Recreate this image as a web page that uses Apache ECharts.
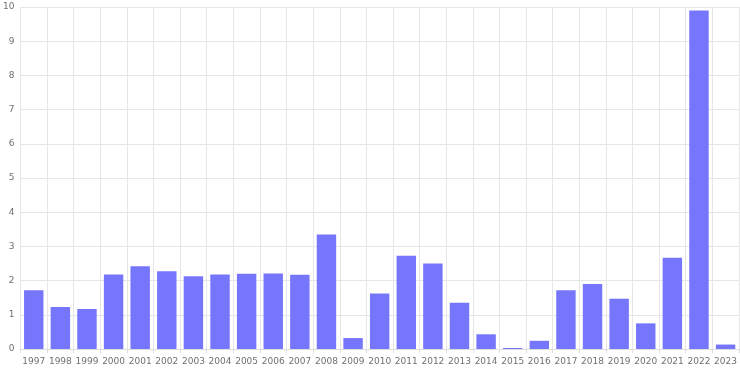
<!DOCTYPE html>
<html>
<head>
<meta charset="utf-8">
<script src="https://cdn.jsdelivr.net/npm/echarts@6/dist/echarts.min.js"></script>
<style>html,body{margin:0;padding:0;background:#fff}#c{width:740px;height:370px}</style>
</head>
<body>
<div id="c"></div>
<script>
var years = ['1997','1998','1999','2000','2001','2002','2003','2004','2005','2006','2007','2008','2009','2010','2011','2012','2013','2014','2015','2016','2017','2018','2019','2020','2021','2022','2023'];
var values = [1.72,1.23,1.17,2.18,2.42,2.27,2.13,2.18,2.2,2.21,2.17,3.35,0.32,1.62,2.73,2.5,1.35,0.43,0.03,0.24,1.72,1.9,1.47,0.75,2.67,9.9,0.13];
var yTicks = [0,1,2,3,4,5,6,7,8,9,10];

var chart = echarts.init(document.getElementById('c'), null, {renderer:'canvas'});
chart.setOption({
  animation:false,
  grid:{left:20,right:0,top:7,bottom:21,containLabel:false},
  xAxis:{
    type:'category', data:years,
    axisLine:{show:true,lineStyle:{color:'#dddddd'}},
    axisTick:{show:true,length:4,lineStyle:{color:'#dddddd'}},
    axisLabel:{color:'#707070',fontSize:9,fontFamily:'DejaVu Sans',margin:8,interval:0},
    splitLine:{show:true,lineStyle:{color:'#e6e6e6'}}
  },
  yAxis:{
    type:'value', min:yTicks[0], max:yTicks[yTicks.length-1], interval:1,
    axisLine:{show:false}, axisTick:{show:false},
    axisLabel:{color:'#707070',fontSize:9,fontFamily:'DejaVu Sans',margin:6},
    splitLine:{show:true,lineStyle:{color:'#e6e6e6'}}
  },
  series:[{
    type:'bar', data:values, barCategoryGap:'27%',
    itemStyle:{color:'#7676fc'}
  }]
});
</script>
</body>
</html>
